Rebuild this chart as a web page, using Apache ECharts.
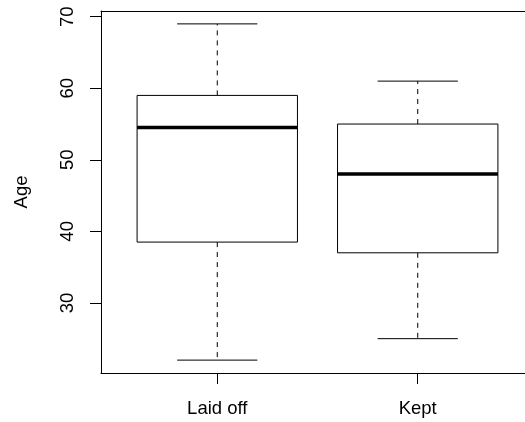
<!DOCTYPE html>
<html>
<head>
<meta charset="utf-8">
<script src="https://cdn.jsdelivr.net/npm/echarts@6/dist/echarts.min.js"></script>
<style>html,body{margin:0;padding:0;background:#fff;overflow:hidden;width:525px;height:422px}#c{width:534px;height:422px}</style>
</head>
<body>
<div id="c"></div>
<script>
var categories = ['Laid off', 'Kept'];
var positions = [1, 2];
var mins = [22, 25];
var q1s = [38.5, 37];
var medians = [54.5, 48];
var q3s = [59, 55];
var maxs = [69, 61];
var yTicks = [30, 40, 50, 60, 70];

var FONT = 'Liberation Sans, Arial, sans-serif';
var data = positions.map(function (p, i) {
  return [p, mins[i], q1s[i], medians[i], q3s[i], maxs[i]];
});

var chart = echarts.init(document.getElementById('c'), null, {renderer: 'canvas'});
chart.setOption({
  animation: false,
  backgroundColor: '#fff',
  grid: {left: 101, top: 11, right: 0, bottom: 49, outerBoundsMode: 'none', containLabel: false, show: false},
  xAxis: [{
    type: 'value', min: 0.42, max: 2.58,
    splitLine: {show: false},
    axisLine: {show: true, lineStyle: {color: '#000', width: 1}},
    axisTick: {show: true, length: 11, customValues: positions, lineStyle: {color: '#000'}},
    axisLabel: {
      customValues: positions, margin: 26, color: '#000', fontSize: 18.5, fontFamily: FONT,
      formatter: function (v) { var i = positions.indexOf(v); return i >= 0 ? categories[i] : ''; }
    }
  }, {
    type: 'value', position: 'top', min: 0.42, max: 2.58,
    splitLine: {show: false},
    axisLine: {show: true, lineStyle: {color: '#000', width: 1}},
    axisTick: {show: false}, axisLabel: {show: false}
  }],
  yAxis: {
    type: 'value', min: 20.2, max: 70.8,
    name: 'Age', nameLocation: 'middle', nameRotate: 90, nameGap: 70,
    nameTextStyle: {color: '#000', fontSize: 18.5, fontFamily: FONT},
    splitLine: {show: false},
    axisLine: {show: true, lineStyle: {color: '#000', width: 1}},
    axisTick: {show: true, length: 11, customValues: yTicks, lineStyle: {color: '#000'}},
    axisLabel: {customValues: yTicks, rotate: 90, margin: 24, color: '#000', fontSize: 18.5, fontFamily: FONT}
  },
  series: [{
    type: 'custom',
    xAxisIndex: 0,
    data: data,
    encode: {x: 0, y: [1, 2, 3, 4, 5]},
    renderItem: function (params, api) {
      var x = api.value(0);
      var hw = 0.4, cw = 0.2;
      var pMin = api.coord([x, api.value(1)]);
      var pQ1 = api.coord([x, api.value(2)]);
      var pMed = api.coord([x, api.value(3)]);
      var pQ3 = api.coord([x, api.value(4)]);
      var pMax = api.coord([x, api.value(5)]);
      var xl = api.coord([x - hw, 0])[0], xr = api.coord([x + hw, 0])[0];
      var cl = api.coord([x - cw, 0])[0], cr = api.coord([x + cw, 0])[0];
      var cx = pMed[0];
      var solid = {stroke: '#000', lineWidth: 1, fill: null};
      var dashed = {stroke: '#000', lineWidth: 1, lineDash: [5, 5]};
      return {
        type: 'group',
        children: [
          {type: 'line', shape: {x1: cx, y1: pQ3[1], x2: cx, y2: pMax[1]}, style: dashed},
          {type: 'line', shape: {x1: cx, y1: pQ1[1], x2: cx, y2: pMin[1]}, style: dashed},
          {type: 'line', shape: {x1: cl, y1: pMax[1], x2: cr, y2: pMax[1]}, style: solid},
          {type: 'line', shape: {x1: cl, y1: pMin[1], x2: cr, y2: pMin[1]}, style: solid},
          {type: 'rect', shape: {x: xl, y: pQ3[1], width: xr - xl, height: pQ1[1] - pQ3[1]}, style: {stroke: '#000', lineWidth: 1, fill: '#fff'}},
          {type: 'line', shape: {x1: xl, y1: pMed[1], x2: xr, y2: pMed[1]}, style: {stroke: '#000', lineWidth: 3.5}}
        ]
      };
    }
  }]
});
</script>
</body>
</html>
